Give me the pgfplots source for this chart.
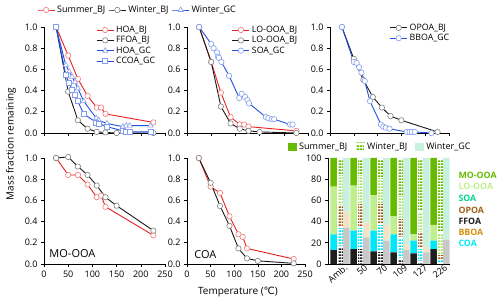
\documentclass[border=0pt]{standalone}
\usepackage{pgfplots}
\pgfplotsset{compat=1.18}
\usepackage{pgfplotstable}
\usepackage{fontspec}
\setmainfont{Open Sans}
\newfontfamily\dejavu{DejaVu Sans}
\usetikzlibrary{patterns}
\pgfdeclarepatternformonly{hdash}{\pgfpointorigin}{\pgfqpoint{3pt}{2.8pt}}{\pgfqpoint{3pt}{2.8pt}}{\pgfpathrectangle{\pgfpointorigin}{\pgfqpoint{3pt}{1.7pt}}\pgfusepath{fill}}

\definecolor{cred}{HTML}{E8201E}
\definecolor{cblue}{HTML}{1F4FE0}
\definecolor{cmo}{HTML}{66BB00}
\definecolor{clo}{HTML}{C0F08E}
\definecolor{csoa}{HTML}{00D890}
\definecolor{copoa}{HTML}{A0621A}
\definecolor{cffoa}{HTML}{1E1E1E}
\definecolor{cbboa}{HTML}{D48E10}
\definecolor{ccoa}{HTML}{00E8F8}
\definecolor{cgray}{HTML}{C8C8C8}
\definecolor{cbeige}{HTML}{F2E3C6}
\definecolor{cmint}{HTML}{C8F0DE}

\pgfplotsset{
  /pgf/number format/assume math mode=true,
  every axis/.append style={scale only axis, font=\fontsize{9}{10}\selectfont},
  panel/.style={width=121pt, height=106pt, xmin=0, xmax=250, ymin=0, ymax=1,
    axis x line*=bottom, axis y line*=left, axis line style={-, line width=0.6pt},
    tick align=outside, major tick length=3pt, tick style={line width=0.6pt, black},
    xtick={0,50,100,150,200,250}, ytick={0,0.2,0.4,0.6,0.8,1},
    yticklabel style={/pgf/number format/.cd, fixed, fixed zerofill, precision=1},
    clip=false, legend cell align=left,
    legend style={draw=none, fill=none, font=\fontsize{8.8}{9}\selectfont, row sep=-1.5pt, inner sep=0pt}},
  sred/.style={color=cred, line width=0.9pt, mark=*, mark size=2.7pt, mark options={fill=white, draw=cred!60, line width=0.6pt}},
  sblk/.style={color=black!90, line width=0.9pt, mark=*, mark size=2.7pt, mark options={fill=white, draw=black!50, line width=0.6pt}},
  sblu/.style={color=cblue, line width=0.9pt, mark=*, mark size=2.7pt, mark options={fill=white, draw=cblue!55, line width=0.6pt}},
  sblut/.style={sblu, mark=triangle*, mark size=3pt},
  sblus/.style={sblu, mark=square*, mark size=2.5pt},
  barax/.style={width=122pt, height=106pt, xmin=-0.6, xmax=5.5, ymin=0, ymax=100,
    ybar stacked, bar width=6.4pt},
  hb/.style={draw=white, line width=0.6pt, pattern=hdash, pattern color=#1},
}

\pgfplotstableread{
x hoa coa lo mo
0 13 15 45 27
1 14 17.5 42.5 26
2 12 19.5 33.5 35
3 11 17 17 55
4 10 12 6 72
5 14 8 15 63
}\summer
\pgfplotstableread{
x ffoa coa opoa lo mo
0 17 18 20 30 15
1 15 20 22 28 15
2 12 25 20 25 18
3 5 20 18 22 35
4 3 12 15 20 50
5 1 3 5 21 70
}\winterbj
\pgfplotstableread{
x gray beige mint
0 34 15.5 50.5
1 25 14 61
2 22 15 63
3 13 6 81
4 11 5 84
5 23 0 77
}\wintergc

\begin{document}
\begin{tikzpicture}[x=1pt,y=1pt]
\useasboundingbox (0,0) rectangle (500,304);

% top legend
\begin{axis}[at={(37pt,289pt)}, anchor=south west, width=10pt, height=10pt, hide axis,
  xmin=0, xmax=1, ymin=0, ymax=1, legend columns=3,
  legend style={at={(0,0.5)}, anchor=west, draw=none, fill=none, font=\fontsize{9}{9}\selectfont, inner sep=0pt, /tikz/every even column/.append style={column sep=1pt}}]
\addlegendimage{sred}\addlegendentry{Summer\_BJ}
\addlegendimage{sblk}\addlegendentry{Winter\_BJ}
\addlegendimage{sblut}\addlegendentry{Winter\_GC}
\end{axis}

% panel 1
\begin{axis}[panel, at={(44pt,171pt)}, anchor=south west, xticklabels={},
  legend style={at={(0.43,1.03)}, anchor=north west}]
\addplot[sred] coordinates {(25,1)(50,0.73)(70,0.51)(90,0.35)(109,0.24)(118,0.24)(127,0.18)(226,0.10)};
\addlegendentry{HOA\_BJ}
\addplot[sblk] coordinates {(25,1)(50,0.39)(70,0.12)(90,0.04)(109,0.01)(127,0.005)(150,0.0)(226,0.0)};
\addlegendentry{FFOA\_BJ}
\addplot[sblut] coordinates {(25,1)(45,0.64)(52,0.58)(58,0.53)(64,0.48)(70,0.42)(82,0.30)(108,0.14)(113,0.12)(130,0.09)(163,0.06)(170,0.07)(177,0.07)(220,0.07)};
\addlegendentry{HOA\_GC}
\addplot[sblus] coordinates {(25,1)(45,0.55)(52,0.47)(58,0.41)(64,0.36)(70,0.30)(82,0.18)(108,0.10)(113,0.09)(130,0.06)(163,0.02)(170,0.01)(177,0.01)(220,0.01)};
\addlegendentry{CCOA\_GC}
\end{axis}

% panel 2
\begin{axis}[panel, at={(187pt,171pt)}, anchor=south west, xticklabels={},
  legend style={at={(0.37,1.03)}, anchor=north west}]
\addplot[sred] coordinates {(25,1)(50,0.67)(70,0.38)(90,0.15)(109,0.08)(118,0.08)(127,0.06)(226,0.02)};
\addlegendentry{LO-OOA\_BJ}
\addplot[sblk] coordinates {(25,1)(50,0.67)(70,0.25)(90,0.09)(109,0.04)(127,0.02)(150,0.01)(226,0.0)};
\addlegendentry{LO-OOA\_BJ}
\addplot[sblu] coordinates {(25,1)(50,0.84)(55,0.80)(62,0.76)(64,0.72)(66,0.71)(71,0.67)(87,0.54)(108,0.33)(113,0.37)(120,0.34)(125,0.31)(128,0.28)(163,0.15)(168,0.14)(175,0.13)(180,0.13)(213,0.08)(218,0.08)};
\addlegendentry{SOA\_GC}
\end{axis}

% panel 3
\begin{axis}[panel, at={(330pt,171pt)}, anchor=south west, xticklabels={}, width=119pt,
  legend style={at={(0.5,1.05)}, anchor=north west}]
\addplot[sblk] coordinates {(25,1)(50,0.70)(70,0.50)(90,0.34)(109,0.24)(127,0.16)(150,0.12)(226,0.01)};
\addlegendentry{OPOA\_BJ}
\addplot[sblu] coordinates {(25,1)(50,0.67)(56,0.66)(61,0.62)(66,0.57)(73,0.49)(84,0.30)(107,0.08)(112,0.06)(117,0.05)(125,0.04)(161,0.01)(167,0.01)(172,0.01)(178,0.01)(213,0.0)};
\addlegendentry{BBOA\_GC}
\end{axis}

% panel 4
\begin{axis}[panel, at={(44pt,40pt)}, anchor=south west]
\addplot[sred] coordinates {(25,1)(50,0.84)(70,0.84)(90,0.75)(109,0.63)(118,0.645)(127,0.54)(226,0.27)};
\addplot[sblk] coordinates {(25,1)(50,1.01)(70,0.92)(90,0.84)(109,0.74)(127,0.63)(150,0.55)(226,0.315)};
\node[anchor=west, font=\fontsize{11}{12}\selectfont] at (axis cs:4,0.1) {MO-OOA};
\end{axis}

% panel 5
\begin{axis}[panel, at={(187pt,40pt)}, anchor=south west, width=118pt]
\addplot[sred] coordinates {(25,1)(50,0.73)(70,0.67)(90,0.45)(109,0.28)(118,0.256)(127,0.147)(226,0.047)};
\addplot[sblk] coordinates {(25,1)(50,0.766)(70,0.547)(90,0.36)(109,0.147)(127,0.053)(150,0.03)(226,0.006)};
\node[anchor=west, font=\fontsize{11}{12}\selectfont] at (axis cs:8,0.09) {COA};
\end{axis}

% bar panel: summer
\begin{axis}[barax, at={(328pt,40pt)}, anchor=south west, bar shift=-6.4pt,
  axis x line*=bottom, axis y line*=left, axis line style={-, line width=0.6pt},
  tick align=outside, major tick length=3pt, tick style={line width=0.6pt, black},
  ytick={0,20,40,60,80,100}, xtick={0,1,2,3,4,5}, xticklabels={Amb.,50,70,109,127,226},
  x tick style={draw=none},
  xticklabel style={rotate=40, anchor=north east, xshift=6pt, yshift=1pt, inner sep=1pt}]
\addplot[fill=cffoa, draw=none] table[x=x, y=hoa] {\summer};
\addplot[fill=ccoa, draw=none] table[x=x, y=coa] {\summer};
\addplot[fill=clo, draw=none] table[x=x, y=lo] {\summer};
\addplot[fill=cmo, draw=none] table[x=x, y=mo] {\summer};
\end{axis}
% winter BJ
\begin{axis}[barax, at={(328pt,40pt)}, anchor=south west, bar shift=0pt, hide axis]
\addplot[hb=cffoa] table[x=x, y=ffoa] {\winterbj};
\addplot[hb=ccoa] table[x=x, y=coa] {\winterbj};
\addplot[hb=copoa] table[x=x, y=opoa] {\winterbj};
\addplot[hb=clo!75!cmo] table[x=x, y=lo] {\winterbj};
\addplot[hb=cmo] table[x=x, y=mo] {\winterbj};
\end{axis}
% winter GC
\begin{axis}[barax, at={(328pt,40pt)}, anchor=south west, bar shift=6.4pt, hide axis]
\addplot[fill=cgray, draw=none] table[x=x, y=gray] {\wintergc};
\addplot[fill=cbeige, draw=none] table[x=x, y=beige] {\wintergc};
\addplot[fill=cmint, draw=none] table[x=x, y=mint] {\wintergc};
\end{axis}

% bar legend
\begin{axis}[at={(288pt,152pt)}, anchor=south west, width=10pt, height=10pt, hide axis,
  xmin=0, xmax=1, ymin=0, ymax=1, legend columns=3,
  legend style={at={(0,0.5)}, anchor=west, draw=none, fill=none, font=\fontsize{9}{9}\selectfont, inner sep=0pt, /tikz/every even column/.append style={column sep=6pt}},
  legend image code/.code={\path[#1] (0pt,-4pt) rectangle (9pt,4pt);}]
\addlegendimage{fill=cmo, draw=none}\addlegendentry{Summer\_BJ}
\addlegendimage{hb=cmo}\addlegendentry{Winter\_BJ}
\addlegendimage{fill=cmint, draw=none}\addlegendentry{Winter\_GC}
\end{axis}

% component labels
\begin{scope}[font=\bfseries\fontsize{8.8}{9}\selectfont]
\node[anchor=west, text=cmo] at (455,129) {MO-OOA};
\node[anchor=west, text=clo] at (455,118) {LO-OOA};
\node[anchor=west, text=csoa] at (455,106) {SOA};
\node[anchor=west, text=copoa] at (455,94) {OPOA};
\node[anchor=west, text=cffoa] at (455,83) {FFOA};
\node[anchor=west, text=cbboa] at (455,72) {BBOA};
\node[anchor=west, text=ccoa] at (455,61) {COA};
\end{scope}

\node[rotate=90, font=\fontsize{10}{12}\selectfont] at (11,160) {Mass fraction remaining};
\node[font=\fontsize{10}{12}\selectfont] at (238,12) {Temperature ({\dejavu ℃})};
\end{tikzpicture}
\end{document}
